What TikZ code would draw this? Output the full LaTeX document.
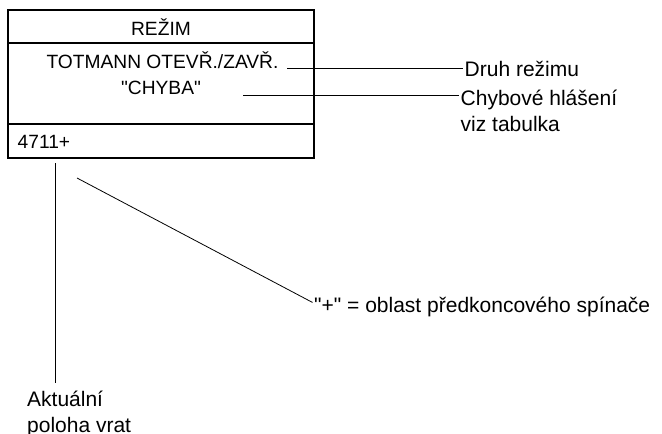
\documentclass[tikz,border=0pt]{standalone}
\usepackage{fontspec}
\setmainfont{Liberation Sans}
\begin{document}
\begin{tikzpicture}[
  x=1pt, y=-1pt,
  row/.style={rectangle, draw=black, line width=1.6pt, minimum width=306pt, inner sep=0pt},
  txt/.style={inner sep=1.5pt, font={\fontsize{19.2}{25}\selectfont}},
  lbl/.style={inner sep=1.5pt, align=left, font={\fontsize{21}{26}\selectfont}},
  lead/.style={line width=0.8pt}
]
\useasboundingbox (0,0) rectangle (662,434);
% display box
\node[row, minimum height=33pt] (hdr) at (161,26.5) {};
\node[row, minimum height=81pt] (body) at (161,83.5) {};
\node[row, minimum height=34pt] (ftr) at (161,141) {};
\node[txt, anchor=base] (title) at (161,35) {REŽIM};
\node[txt, anchor=base] (mode) at (162.5,68.5) {TOTMANN OTEVŘ./ZAVŘ.};
\node[txt, anchor=base] (err) at (161,94) {\textquotedbl CHYBA\textquotedbl};
\node[txt, anchor=base west] (pos) at (16,148) {4711+};
% labels
\node[lbl, anchor=base west] (lmode) at (463,76) {Druh režimu};
\node[lbl, anchor=base west] (lerr) at (459,131) {Chybové hlášení\\viz tabulka};
\node[lbl, anchor=base west] (lpos) at (25.5,432) {Aktuální\\poloha vrat};
\node[lbl, anchor=base west] (lplus) at (312.5,312) {\textquotedbl+\textquotedbl{} = oblast předkoncového spínače};
% leaders
\coordinate (c1) at (287,68);
\coordinate (c2) at (243,95);
\coordinate (c3) at (55,163);
\coordinate (c4) at (77,178);
\draw[lead] (c1) -- (c1 -| lmode.west);
\draw[lead] (c2) -- (c2 -| lerr.west);
\draw[lead] (c3) -- ([yshift=6pt]lpos.north -| c3);
\draw[lead] (c4) -- ([yshift=4pt]lplus.west);
\end{tikzpicture}
\end{document}
